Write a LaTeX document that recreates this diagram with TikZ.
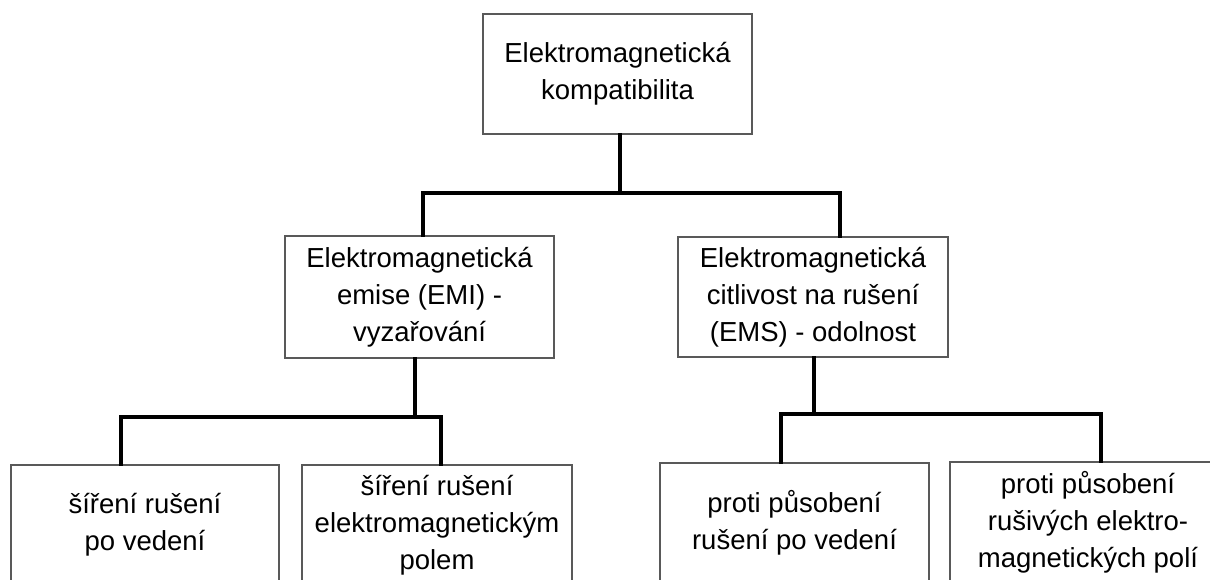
\documentclass[tikz,border=0pt]{standalone}
\usepackage{fontspec}
\setmainfont{Liberation Sans}
\begin{document}
\begin{tikzpicture}[x=1pt,y=-1pt,
  box/.style={draw=black!65,line width=1.1pt,fill=white,rectangle,align=center,inner sep=0pt,
    minimum height=120pt,font=\fontsize{27.5}{37}\selectfont},
  conn/.style={draw=black,line width=3.6pt,line cap=rect,line join=miter}]
\useasboundingbox (0,0) rectangle (1210,580);
\clip (0,0) rectangle (1210,580);
% nodes
\node[box,minimum width=269pt] (top) at (617.5,74) {Elektromagnetická\\kompatibilita};
\node[box,minimum width=269pt,minimum height=122pt] (ml) at (419.5,297) {Elektromagnetická\\emise (EMI) -\\vyzařování};
\node[box,minimum width=270pt] (mr) at (813,297) {Elektromagnetická\\citlivost na rušení\\(EMS) - odolnost};
\node[box,minimum width=268pt] (b1) at (145,525) {šíření rušení\\po vedení};
\node[box,minimum width=270pt] (b2) at (437,525) {šíření rušení\\elektromagnetickým\\polem};
\node[box,minimum width=269pt] (b3) at (794.5,523) {proti působení\\rušení po vedení};
\node[box,minimum width=276pt] (b4) at (1088,522) {proti působení\\rušivých elektro-\\magnetických polí};
% bus coordinates
\coordinate (j1) at (620,193);
\coordinate (j2) at (415,417);
\coordinate (j3) at (814,414);
% connectors
\draw[conn] ([xshift=2.5pt]top.south) -- (j1);
\draw[conn] ([xshift=3.5pt]ml.north) |- (j1) -| ([xshift=27pt]mr.north);
\draw[conn] ([xshift=-4.5pt]ml.south) -- (j2);
\draw[conn] ([xshift=-24pt]b1.north) |- (j2) -| ([xshift=4pt]b2.north);
\draw[conn] ([xshift=1pt]mr.south) -- (j3);
\draw[conn] ([xshift=-13.5pt]b3.north) |- (j3) -| ([xshift=13pt]b4.north);
\end{tikzpicture}
\end{document}
